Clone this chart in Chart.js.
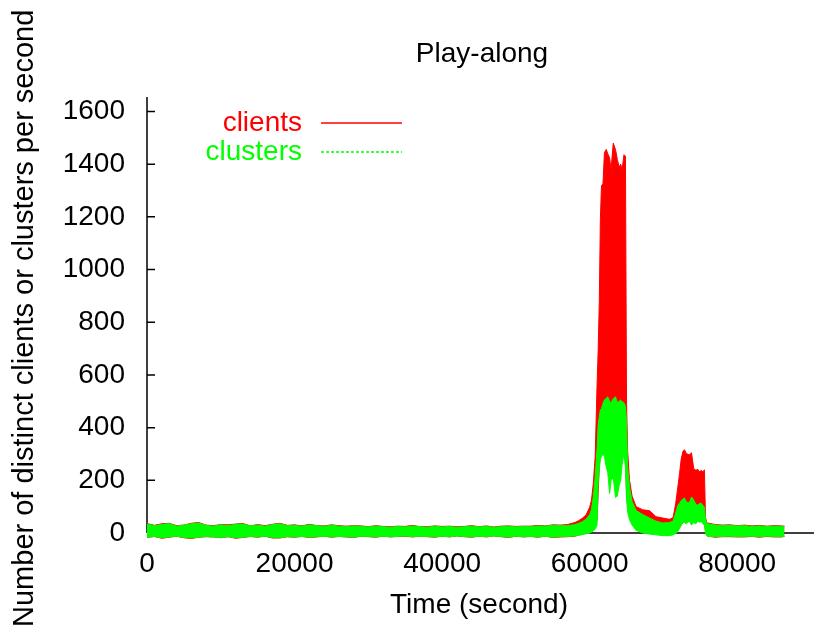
<!DOCTYPE html>
<html>
<head>
<meta charset="utf-8">
<script src="https://cdn.jsdelivr.net/npm/chart.js@4/dist/chart.umd.min.js"></script>
<style>
  body { margin: 0; background: #fff; }
  #wrap { width: 814px; height: 625px; }
</style>
</head>
<body>
<div id="wrap"><canvas id="playChart"></canvas></div>
<script>
// time in seconds (one day of traffic)
const times = [
  0,1000,2000,3000,4000,5000,6000,7000,8000,9000,
  10000,11000,12000,13000,14000,15000,16000,17000,18000,19000,
  20000,21000,22000,23000,24000,25000,26000,27000,28000,29000,
  30000,31000,32000,33000,34000,35000,36000,37000,38000,39000,
  40000,41000,42000,43000,44000,45000,46000,47000,48000,49000,
  50000,51000,52000,53000,54000,55000,56000,
  57000,58000,58500,59000,59500,60000,60250,60500,60750,61000,
  61150,61300,61450,61600,61800,62000,62250,62450,62700,62900,
  63200,63500,63750,64000,64200,64400,64650,64850,65000,65150,
  65400,65750,66300,67200,68100,69000,69900,70800,71300,71650,
  71950,72200,72400,72650,72850,73100,73500,73800,74100,74400,
  74650,74900,75100,75350,75550,75700,75850,76000,77000,78000,
  79000,80000,81000,82000,83000,84000,85000,86000,86400
];

// upper / lower edge of the noisy per-second counts
const clientsHigh = [
  36,29,35,37,28,30,37,40,30,28, 32,31,34,36,27,32,28,33,37,29,
  31,27,33,28,27,31,28,26,28,27, 24,28,25,24,26,25,29,24,24,27,
  25,26,24,25,28,24,27,23,26,27, 25,26,26,29,27,31,30,
  32,40,47,56,68,98,125,190,290,560,
  690,870,1190,1318,1325,1444,1456,1440,1424,1380,
  1480,1456,1418,1388,1400,1380,1436,1430,490,310,
  200,140,100,88,85,62,57,52,58,110,
  175,230,280,310,316,302,296,305,245,238,
  242,232,238,232,240,60,40,38,32,30,
  31,28,30,27,29,26,28,27,26
];
const clientsLow = [
  -17,-13,-20,-16,-12,-18,-21,-16,-14,-15, -18,-14,-20,-17,-13,-16,-12,-19,-19,-14,
  -16,-13,-17,-15,-12,-16,-13,-15,-17,-12, -14,-16,-12,-15,-13,-12,-15,-12,-14,-16,
  -12,-15,-11,-14,-16,-12,-15,-11,-14,-17, -12,-15,-13,-16,-12,-17,-15,
  -14,-12,-8,-4,2,8,15,25,35,50,
  150,250,300,320,330,330,300,280,220,250,
  250,200,230,250,260,290,300,280,150,100,
  60,40,20,10,5,0,-5,-7,0,5,
  10,20,30,40,45,45,50,45,50,45,
  50,45,50,45,40,10,-8,-12,-16,-14,
  -14,-15,-15,-13,-16,-13,-15,-15,-13
];
const clustersHigh = [
  34,28,32,36,26,30,35,38,29,26, 31,28,33,34,27,30,26,32,35,28,
  29,26,31,28,25,30,26,24,27,25, 23,26,24,22,25,23,27,24,22,26,
  23,25,22,24,26,23,25,22,24,26, 23,25,24,27,26,29,28,
  28,32,37,43,52,70,90,140,215,320,
  410,440,468,472,492,505,512,517,500,494,
  510,517,495,500,505,498,494,480,420,250,
  175,120,85,70,57,45,38,40,45,76,
  105,114,122,130,133,118,114,137,125,108,
  106,112,114,104,99,52,40,35,30,28,
  29,27,28,25,27,25,26,25,24
];
const clustersLow = [
  -16,-13,-18,-15,-12,-17,-19,-16,-13,-15, -17,-14,-18,-16,-13,-15,-12,-17,-18,-14,
  -15,-13,-16,-14,-12,-15,-13,-14,-16,-12, -13,-15,-12,-14,-13,-11,-14,-12,-13,-15,
  -12,-14,-11,-13,-15,-12,-14,-11,-13,-16, -12,-14,-13,-15,-12,-16,-14,
  -13,-11,-9,-6,-3,0,4,8,15,30,
  190,240,280,290,300,290,250,230,150,200,
  210,135,140,180,200,260,300,250,130,80,
  50,30,10,0,-4,-7,-10,-10,-7,-2,
  5,20,30,40,40,35,45,30,40,35,
  45,40,45,35,30,0,-10,-12,-14,-13,
  -12,-14,-13,-12,-14,-12,-13,-14,-12
];

const xTicks = [0, 20000, 40000, 60000, 80000];
const yTicks = [0, 200, 400, 600, 800, 1000, 1200, 1400, 1600];

const FONT = 'Liberation Sans, Arial, Helvetica, sans-serif';
const RED = '#ff0000';
const GREEN = '#00ff00';

function pts(values) {
  return times.map((t, i) => ({ x: t, y: values[i] }));
}

// gnuplot style axes: left + bottom border, inward ticks, title and key
const gnuplotLook = {
  id: 'gnuplotLook',
  beforeDatasetsDraw(chart) {
    const { ctx, chartArea, scales: { x, y } } = chart;
    const y0 = y.getPixelForValue(0);
    ctx.save();
    ctx.strokeStyle = '#000';
    ctx.lineWidth = 1.5;
    ctx.beginPath();
    ctx.moveTo(chartArea.left, chartArea.top);
    ctx.lineTo(chartArea.left, y0);
    ctx.moveTo(chartArea.left, y0);
    ctx.lineTo(chart.width, y0);
    yTicks.forEach(v => {
      const p = y.getPixelForValue(v);
      ctx.moveTo(chartArea.left, p);
      ctx.lineTo(chartArea.left + 8, p);
    });
    xTicks.forEach(v => {
      const p = x.getPixelForValue(v);
      ctx.moveTo(p, y0);
      ctx.lineTo(p, y0 - 7);
    });
    ctx.stroke();
    ctx.restore();
  },
  afterDraw(chart) {
    const { ctx, chartArea } = chart;
    ctx.save();
    ctx.font = '28px ' + FONT;
    ctx.textBaseline = 'middle';

    // title
    ctx.fillStyle = '#000';
    ctx.textAlign = 'center';
    ctx.fillText('Play-along', (chartArea.left + chartArea.right) / 2 + 3, 54);

    // key
    const textRight = chartArea.left + 155;
    const lineA = chartArea.left + 174, lineB = chartArea.left + 255;
    const keys = [
      { label: 'clients', color: RED, dash: [], y: chartArea.top + 26 },
      { label: 'clusters', color: GREEN, dash: [3, 2], y: chartArea.top + 55 }
    ];
    keys.forEach(k => {
      ctx.fillStyle = k.color;
      ctx.textAlign = 'right';
      ctx.fillText(k.label, textRight, k.y);
      ctx.strokeStyle = k.color;
      ctx.lineWidth = 1.5;
      ctx.setLineDash(k.dash);
      ctx.beginPath();
      ctx.moveTo(lineA, k.y);
      ctx.lineTo(lineB, k.y);
      ctx.stroke();
    });
    ctx.restore();
  }
};

new Chart(document.getElementById('playChart'), {
  type: 'line',
  data: {
    datasets: [
      { label: 'clusters', data: pts(clustersHigh), borderColor: GREEN, backgroundColor: GREEN, fill: '+1', order: 0 },
      { label: 'clusters low', data: pts(clustersLow), borderColor: GREEN, backgroundColor: GREEN, fill: false, order: 0 },
      { label: 'clients', data: pts(clientsHigh), borderColor: RED, backgroundColor: RED, fill: '+1', order: 1 },
      { label: 'clients low', data: pts(clientsLow), borderColor: RED, backgroundColor: RED, fill: false, order: 1 }
    ]
  },
  options: {
    responsive: true,
    maintainAspectRatio: false,
    animation: false,
    elements: {
      point: { radius: 0 },
      line: { borderWidth: 1, tension: 0 }
    },
    layout: { padding: { top: 97, right: 3, left: 0, bottom: 0 } },
    plugins: {
      legend: { display: false },
      tooltip: { enabled: false },
      title: { display: false }
    },
    scales: {
      x: {
        type: 'linear',
        min: 0,
        max: 90000,
        grid: { display: false },
        border: { display: false },
        afterBuildTicks: s => { s.ticks = xTicks.map(v => ({ value: v })); },
        afterFit: s => { s.height = 85.4; },
        ticks: {
          autoSkip: false,
          maxRotation: 0,
          padding: 0,
          color: '#000',
          font: { family: FONT, size: 28 },
          callback: v => String(v)
        },
        title: {
          display: true,
          text: 'Time (second)',
          color: '#000',
          font: { family: FONT, size: 28 },
          padding: { top: 3, bottom: 3 }
        }
      },
      y: {
        min: -25,
        max: 1655,
        grid: { display: false },
        border: { display: false },
        afterBuildTicks: s => { s.ticks = yTicks.map(v => ({ value: v })); },
        afterFit: s => { s.width = 147; },
        ticks: {
          padding: 14,
          color: '#000',
          font: { family: FONT, size: 28, lineHeight: 1 },
          callback: v => String(v)
        },
        title: {
          display: true,
          text: 'Number of distinct clients or clusters per second',
          color: '#000',
          font: { family: FONT, size: 29 },
          padding: { top: 8, bottom: 0 }
        }
      }
    }
  },
  plugins: [gnuplotLook]
});
</script>
</body>
</html>
